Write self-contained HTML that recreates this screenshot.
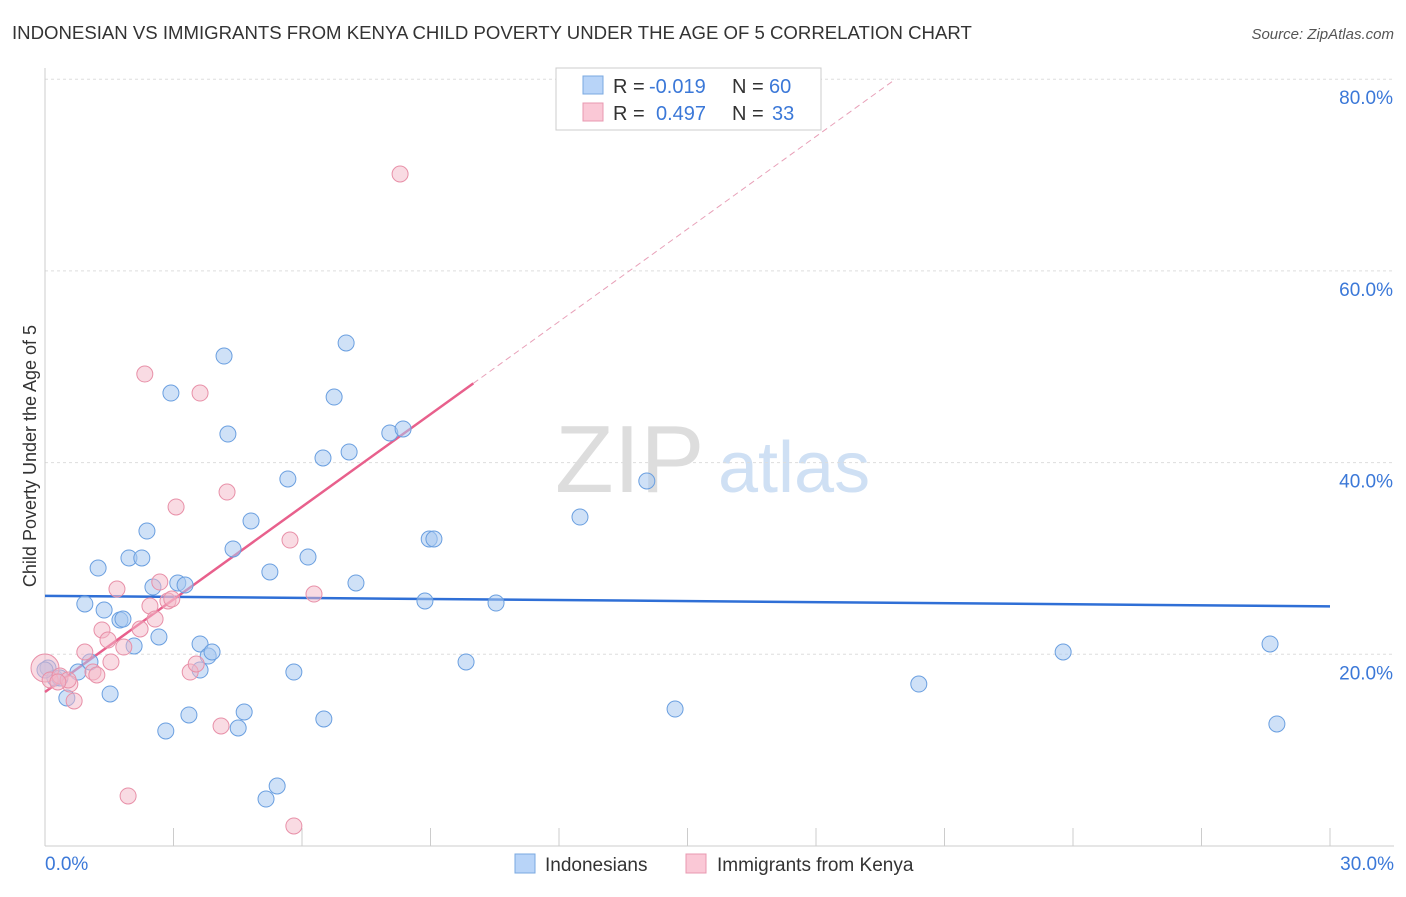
<!DOCTYPE html>
<html><head><meta charset="utf-8"><style>
body{margin:0;background:#fff;font-family:"Liberation Sans",sans-serif;}
svg text{font-family:"Liberation Sans",sans-serif;}
</style></head><body>
<svg width="1406" height="892" id="chart">
<text x="12" y="39" font-size="18.6" fill="#333">INDONESIAN VS IMMIGRANTS FROM KENYA CHILD POVERTY UNDER THE AGE OF 5 CORRELATION CHART</text>
<text x="1394" y="39" font-size="15" fill="#555" font-style="italic" text-anchor="end">Source: ZipAtlas.com</text>
<text x="36" y="456" font-size="18" fill="#333" text-anchor="middle" transform="rotate(-90 36 456)">Child Poverty Under the Age of 5</text>
<text x="555" y="492" font-size="96" fill="#ddd" font-family="Liberation Serif">ZIP</text>
<text x="718" y="492" font-size="72" fill="#cfe0f4">atlas</text>
<g id="grid"></g><g id="trend"></g><g id="pts"></g>
<g>
<rect x="556" y="68" width="265" height="62" fill="#fff" stroke="#ccc"/>
<rect x="583" y="76" width="20" height="18" fill="#b8d4f8" stroke="#7aa8e0"/>
<text x="613" y="93" font-size="20" fill="#333">R =</text>
<text x="649" y="93" font-size="20" fill="#3b78d8">-0.019</text>
<text x="732" y="93" font-size="20" fill="#333">N =</text>
<text x="769" y="93" font-size="20" fill="#3b78d8">60</text>
<rect x="583" y="103" width="20" height="18" fill="#fac8d6" stroke="#e898b0"/>
<text x="613" y="120" font-size="20" fill="#333">R =</text>
<text x="656" y="120" font-size="20" fill="#3b78d8">0.497</text>
<text x="732" y="120" font-size="20" fill="#333">N =</text>
<text x="772" y="120" font-size="20" fill="#3b78d8">33</text>
</g>
<g>
<rect x="515" y="854" width="20" height="19" fill="#b8d4f8" stroke="#7aa8e0"/>
<text x="545" y="871" font-size="19" fill="#333">Indonesians</text>
<rect x="686" y="854" width="20" height="19" fill="#fac8d6" stroke="#e898b0"/>
<text x="717" y="871" font-size="19" fill="#333">Immigrants from Kenya</text>
</g>
</svg>
<script>
const blueX=[0.07,0.23,0.51,0.77,0.93,1.05,1.24,1.38,1.52,1.75,1.82,1.96,2.08,2.26,2.38,2.52,2.66,2.82,2.94,3.10,3.27,3.36,3.62,3.62,3.81,3.90,4.18,4.27,4.39,4.51,4.65,4.81,5.16,5.25,5.42,5.67,5.81,6.14,6.49,6.51,6.75,7.03,7.10,7.26,8.05,8.36,8.87,8.97,9.08,9.83,10.53,12.49,14.05,14.71,20.40,23.77,28.60,28.76,0.0,0.35];
const blueY=[18.57,17.53,15.44,18.15,25.25,19.20,29.00,24.62,15.86,23.58,23.68,30.05,20.87,30.05,32.86,27.02,21.81,12.00,47.26,27.44,27.23,13.67,21.08,18.36,19.82,20.24,51.12,42.98,30.99,12.31,13.98,33.91,4.90,28.59,6.26,38.29,18.15,30.15,40.48,13.25,46.84,52.48,41.11,27.44,43.09,43.51,25.56,32.03,32.03,19.20,25.35,34.32,38.08,14.29,16.90,20.24,21.08,12.73,18.36,17.53];
const pinkX=[0,0.12,0.35,0.58,0.68,0.93,1.12,1.21,1.33,1.47,1.54,1.68,1.84,1.94,2.22,2.33,2.45,2.57,2.68,2.87,2.96,3.06,3.39,3.53,3.62,4.11,4.25,5.72,5.81,6.28,8.29,0.54,0.30];
const pinkY=[18.57,17.32,17.74,16.90,15.13,20.24,18.15,17.84,22.54,21.49,19.20,26.81,20.76,5.22,22.64,49.24,25.04,23.68,27.54,25.56,25.77,35.37,18.15,18.99,47.26,12.52,36.93,31.92,2.09,26.29,70.11,17.32,17.11];
const blueTrend=[26.1,25.0];
const pinkTrend=[16.07,3.22];
const yTicks=[20,40,60,80];
const xTickLabels=["0.0%","30.0%"];
const NS="http://www.w3.org/2000/svg";
const sx=v=>45+v/30*1285, sy=v=>846-v/20*191.7;
function mk(tag,attrs,parent){const e=document.createElementNS(NS,tag);for(const k in attrs)e.setAttribute(k,attrs[k]);parent.appendChild(e);return e;}
const grid=document.getElementById('grid');
yTicks.forEach(t=>{
 const l=mk('line',{x1:45,x2:1394,y1:sy(t),y2:sy(t),stroke:'#ddd','stroke-dasharray':'3,3'},grid);
 
 
 const tx=mk('text',{x:1393,y:sy(t)+25,'font-size':19,fill:'#3b78d8','text-anchor':'end'},grid);
 tx.textContent=t.toFixed(1)+'%';
 
 
});
const ax=mk('line',{x1:45,x2:45,y1:68,y2:846,stroke:'#ccc'},grid);


const bx=mk('line',{x1:45,x2:1394,y1:846,y2:846,stroke:'#ccc'},grid);


for(let i=0;i<=10;i++){const t=mk('line',{x1:sx(i*3),x2:sx(i*3),y1:828,y2:846,stroke:'#ccc'},grid);
 
 }
[[0,'start',45],[1,'end',1394]].forEach(([i,a,x])=>{const t=mk('text',{x:x,y:870,'font-size':19,fill:'#3b78d8','text-anchor':a},grid);t.textContent=xTickLabels[i];
 
 });
const tr=document.getElementById('trend');
const b=mk('line',{x1:sx(0),y1:sy(blueTrend[0]),x2:sx(30),y2:sy(blueTrend[1]),stroke:'#2f6fd6','stroke-width':2.5},tr);


const pv=x=>pinkTrend[0]+pinkTrend[1]*x;
const xe=(80-pinkTrend[0])/pinkTrend[1];
const pd=mk('line',{x1:sx(10),y1:sy(pv(10)),x2:sx(xe),y2:sy(80),stroke:'#e8a0b8','stroke-width':1,'stroke-dasharray':'6,4'},tr);


const p=mk('line',{x1:sx(0),y1:sy(pv(0)),x2:sx(10),y2:sy(pv(10)),stroke:'#e8608c','stroke-width':2.5},tr);


const pts=document.getElementById('pts');
blueX.forEach((x,i)=>{const c=mk('circle',{cx:sx(x),cy:sy(blueY[i]),r:8,fill:'rgba(168,200,240,0.55)',stroke:'#6a9fe0','stroke-width':1},pts);
 
 });
pinkX.forEach((x,i)=>{const c=mk('circle',{cx:sx(x),cy:sy(pinkY[i]),r:i==0?14:8,fill:'rgba(244,184,200,0.5)',stroke:'#e890a8','stroke-width':1},pts);
 
 });
</script>
</body></html>
